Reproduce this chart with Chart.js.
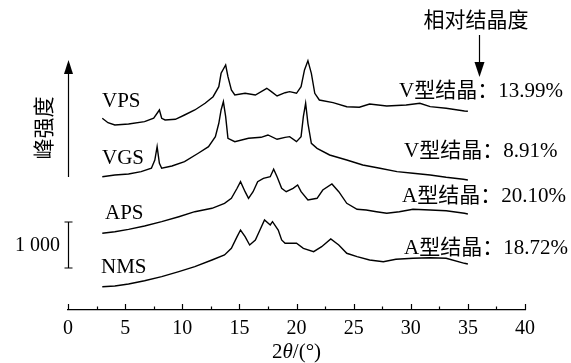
<!DOCTYPE html>
<html><head><meta charset="utf-8">
<script src="https://cdn.jsdelivr.net/npm/chart.js@4"></script>
<style>html,body{margin:0;padding:0;background:#fff;}#wrap{width:571px;height:363px;}</style>
</head><body><div id="wrap"><canvas id="c" width="571" height="363"></canvas></div>
<script>
// ---- data (2θ in degrees, intensity in counts incl. stacking offset) ----
const seriesNames = ['VPS', 'VGS', 'APS', 'NMS'];
const crystalLabels = ['V型结晶：13.99%', 'V型结晶：8.91%', 'A型结晶：20.10%', 'A型结晶：18.72%'];
const xTicks = [0, 5, 10, 15, 20, 25, 30, 35, 40];
const scaleBarValue = 1000;

const vpsX = [3.0,3.5,4.1,5.3,6.7,7.5,8.0,8.2,8.5,9.4,10.2,11.1,12.0,12.7,13.2,13.4,13.8,14.0,14.3,14.6,15.5,16.4,17.4,17.8,18.3,19.0,19.4,20.0,20.4,20.7,21.0,21.3,21.6,22.0,23.2,24.4,25.5,26.4,27.9,29.6,30.8,31.7,33.1,34.7,35.0];
const vpsY = [4168,4072,4022,4044,4094,4168,4348,4168,4131,4146,4239,4348,4494,4637,4855,5146,5326,5072,4783,4674,4711,4674,4820,4746,4652,4724,4746,4711,4855,5218,5420,5146,4711,4565,4507,4420,4407,4478,4435,4457,4494,4420,4385,4326,4320];

const vgsX = [3.0,4.1,5.3,6.4,7.3,7.6,7.8,8.0,8.2,9.1,10.2,11.4,12.3,12.9,13.2,13.4,13.6,13.8,14.0,14.6,15.8,16.9,17.5,18.3,19.0,19.4,20.0,20.4,20.6,20.8,21.0,21.3,21.8,22.9,24.4,25.8,27.3,28.8,30.2,31.7,33.1,34.6,35.0];
const vgsY = [2898,2935,2957,3007,3081,3261,3550,3189,3081,3131,3224,3407,3550,3768,4059,4348,4528,4202,3733,3659,3733,3754,3805,3711,3754,3768,3659,3768,4202,4494,4059,3624,3515,3370,3261,3152,3081,3007,2972,2935,2885,2841,2826];

const apsX = [3.0,4.1,5.3,6.7,8.2,9.7,11.1,12.6,13.7,14.3,14.8,15.1,15.5,15.8,16.2,16.6,17.1,17.7,18.0,18.3,18.7,19.1,19.7,20.1,20.4,21.0,21.8,22.3,23.1,23.7,24.4,25.3,26.1,27.0,27.9,29.0,30.2,31.7,33.1,34.7,35.0];
const apsY = [1667,1702,1754,1826,1920,2028,2137,2211,2320,2428,2646,2789,2572,2428,2572,2789,2863,2898,3059,2898,2646,2572,2646,2718,2572,2391,2428,2609,2739,2572,2320,2189,2174,2137,2102,2137,2189,2174,2159,2102,2087];

const nmsX = [3.0,4.1,5.3,6.7,8.2,9.7,11.1,12.6,13.7,14.3,14.8,15.1,15.5,15.9,16.4,16.8,17.2,17.7,17.9,18.4,18.7,19.0,20.0,20.6,21.5,22.2,23.0,23.7,24.4,25.3,26.4,27.6,28.7,30.2,31.7,33.1,34.7,35.0];
const nmsY = [507,522,565,637,724,833,941,1087,1196,1341,1594,1739,1594,1413,1522,1739,1957,1848,1920,1739,1522,1450,1450,1341,1268,1376,1544,1413,1233,1159,1087,1050,1102,1124,1137,1124,1015,1000];

// ---- chart ----
const SERIF = "'Liberation Serif', 'Noto Sans CJK SC', serif";
Chart.defaults.font.family = SERIF;
Chart.defaults.color = '#000';

const toPts = (xs, ys) => xs.map((x, i) => ({x: x, y: ys[i]}));
const allX = [vpsX, vgsX, apsX, nmsX];
const allY = [vpsY, vgsY, apsY, nmsY];

const datasets = seriesNames.map((n, i) => ({
  label: n, data: toPts(allX[i], allY[i]), showLine: true,
  borderColor: '#000', borderWidth: 1.4, pointRadius: 0, tension: 0, fill: false
}));

const annot = {
  id: 'annot',
  afterDraw(chart) {
    const ctx = chart.ctx, xs = chart.scales.x, ys = chart.scales.y;
    const ca = chart.chartArea;
    ctx.save();
    ctx.strokeStyle = '#000'; ctx.fillStyle = '#000'; ctx.lineWidth = 1.2;
    // inward ticks incl. minor
    for (let v = 0; v <= 40; v += 2.5) {
      const px = Math.round(xs.getPixelForValue(v)) + 0.5;
      const len = (v % 5 === 0) ? 6 : 3.5;
      ctx.beginPath(); ctx.moveTo(px, ca.bottom); ctx.lineTo(px, ca.bottom - len); ctx.stroke();
    }
    const x0 = Math.round(xs.getPixelForValue(0)) + 0.5;
    // intensity arrow
    ctx.beginPath(); ctx.moveTo(x0, 177); ctx.lineTo(x0, 70); ctx.stroke();
    ctx.beginPath(); ctx.moveTo(x0, 60); ctx.lineTo(x0 - 4.5, 74); ctx.lineTo(x0 + 4.5, 74); ctx.closePath(); ctx.fill();
    // scale bar 1000
    const yb0 = ys.getPixelForValue(913), yb1 = ys.getPixelForValue(913 + scaleBarValue);
    ctx.beginPath();
    ctx.moveTo(x0, yb0); ctx.lineTo(x0, yb1);
    ctx.moveTo(x0 - 4, yb0); ctx.lineTo(x0 + 4, yb0);
    ctx.moveTo(x0 - 4, yb1); ctx.lineTo(x0 + 4, yb1);
    ctx.stroke();
    ctx.textBaseline = 'middle';
    ctx.font = '20px ' + SERIF; ctx.textAlign = 'right';
    ctx.fillText('1 000', 60, (yb0 + yb1) / 2 + 1);
    // y label rotated
    ctx.save(); ctx.translate(45, 128); ctx.rotate(-Math.PI / 2);
    ctx.textAlign = 'center'; ctx.font = '21px ' + SERIF; ctx.fillText('峰强度', 0, 0);
    ctx.restore();
    // curve names
    ctx.textAlign = 'left'; ctx.font = '21px ' + SERIF;
    const nameY = [101, 158, 213, 267], nameX = [102, 102, 105, 101];
    seriesNames.forEach((n, i) => ctx.fillText(n, nameX[i], nameY[i]));
    // crystal labels
    ctx.font = '21px ' + SERIF;
    const cy = [91, 151, 196, 248], cx = [399, 404, 402, 404];
    crystalLabels.forEach((t, i) => ctx.fillText(t, cx[i], cy[i]));
    ctx.textAlign = 'center'; ctx.font = '21px ' + SERIF;
    ctx.fillText('相对结晶度', 476, 21);
    // down arrow
    const ax = 479.5;
    ctx.beginPath(); ctx.moveTo(ax, 35); ctx.lineTo(ax, 66); ctx.stroke();
    ctx.beginPath(); ctx.moveTo(ax, 77); ctx.lineTo(ax - 5, 62); ctx.lineTo(ax + 5, 62); ctx.closePath(); ctx.fill();
    // x axis title 2θ/(°)
    const cxm = (ca.left + ca.right) / 2, ty = 352;
    const parts = [['2', ''], ['θ', 'italic '], ['/(°)', '']];
    let w = 0;
    parts.forEach(p => { ctx.font = p[1] + '21px ' + SERIF; w += ctx.measureText(p[0]).width; });
    let sx = cxm - w / 2; ctx.textAlign = 'left';
    parts.forEach(p => { ctx.font = p[1] + '21px ' + SERIF; ctx.fillText(p[0], sx, ty); sx += ctx.measureText(p[0]).width; });
    ctx.restore();
  }
};

new Chart(document.getElementById('c'), {
  type: 'scatter',
  data: { datasets: datasets },
  options: {
    responsive: false, animation: false, devicePixelRatio: 1,
    layout: { padding: { left: 68, right: 46, top: 11, bottom: 0 } },
    plugins: { legend: { display: false }, tooltip: { enabled: false } },
    scales: {
      x: {
        type: 'linear', min: 0, max: 40,
        grid: { display: false, drawTicks: false },
        border: { display: true, color: '#000', width: 1.2 },
        ticks: { stepSize: 5, padding: 7, color: '#000', autoSkip: false, maxRotation: 0,
          font: { size: 20, family: SERIF },
          callback: (v) => xTicks.includes(v) ? String(v) : '' },
        afterFit: (s) => { s.height = 53; }
      },
      y: { display: false, min: 0, max: 6500 }
    }
  },
  plugins: [annot]
});
</script></body></html>
